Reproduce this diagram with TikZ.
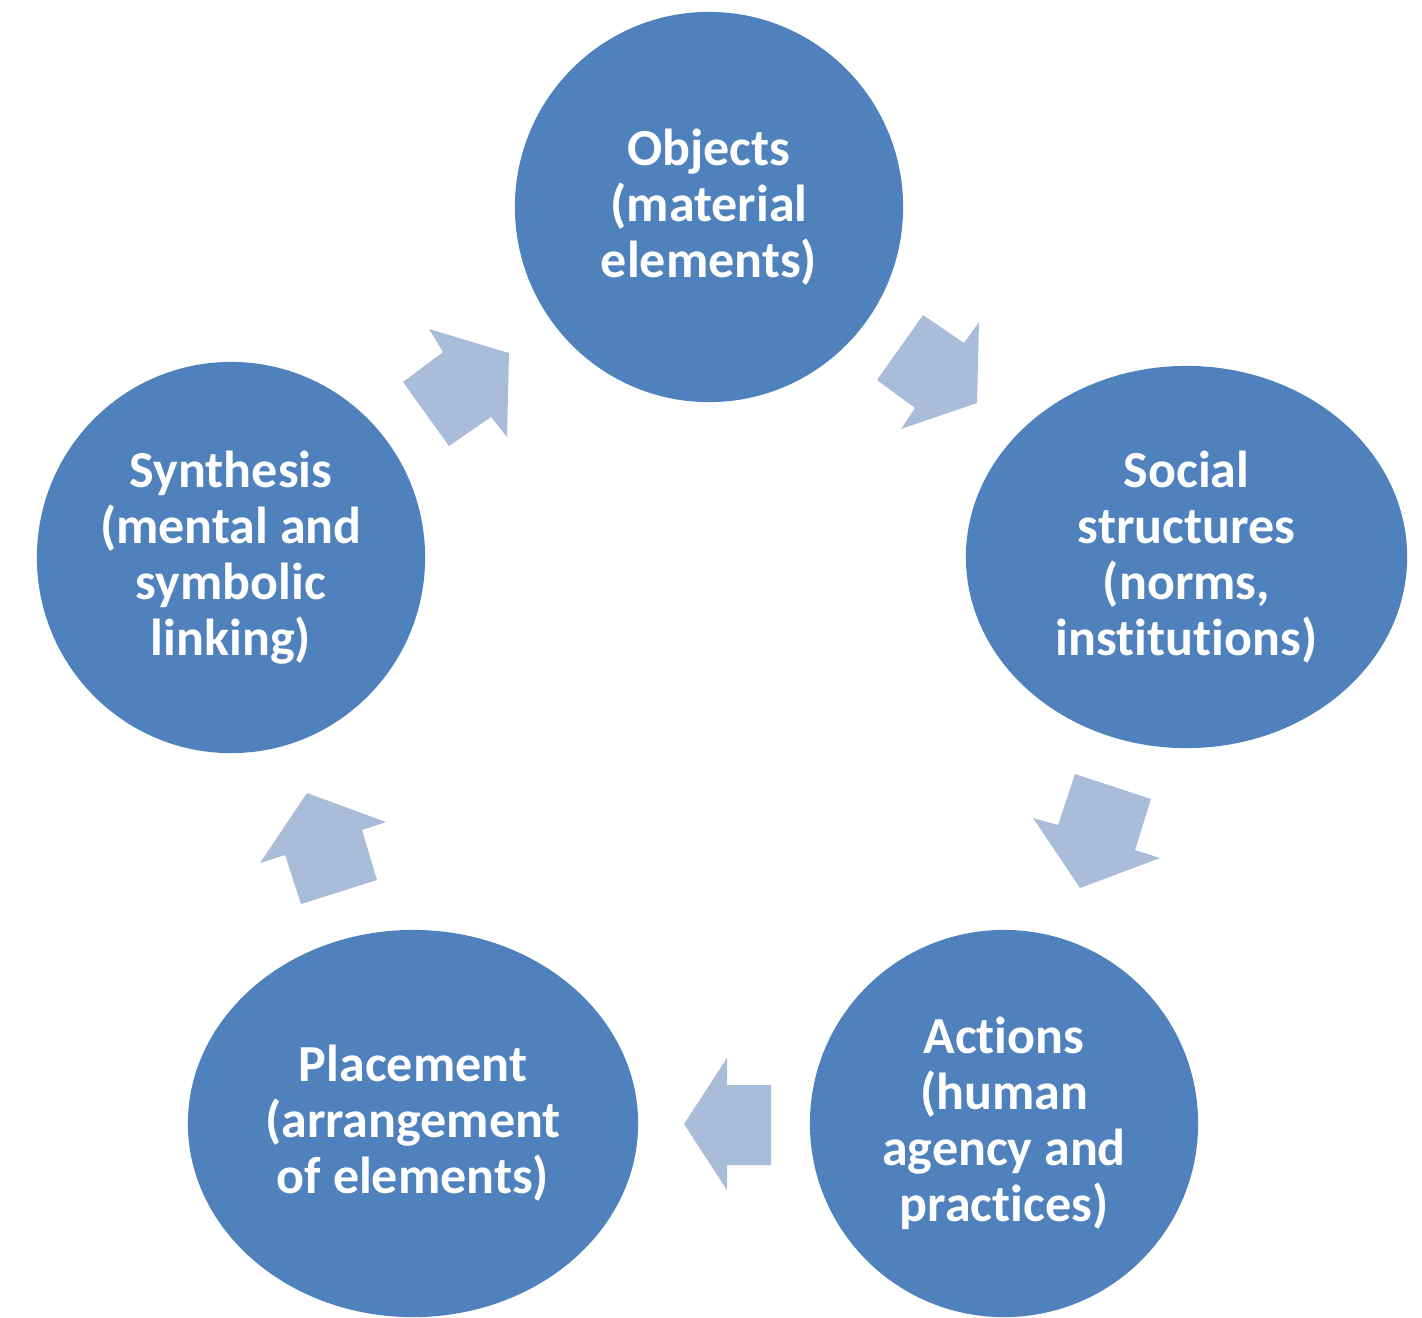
\documentclass[tikz,border=0pt]{standalone}
\usepackage{fontspec}
\setmainfont{Carlito}[Ligatures={NoCommon}]
\usetikzlibrary{shapes.geometric}
\definecolor{nodeblue}{RGB}{79,129,189}
\definecolor{arrowblue}{RGB}{169,188,217}
\begin{document}
\begin{tikzpicture}[x=0.01cm,y=-0.01cm,
  stage/.style={ellipse, fill=nodeblue, draw=none, inner sep=0pt, text=white,
    font=\fontsize{14.8pt}{15.9pt}\selectfont\bfseries, align=center},
  cyclearrow/.style={fill=arrowblue, draw=none}]
\useasboundingbox (0,0) rectangle (1422,1317);
% stages
\node[stage, minimum width=3.88cm, minimum height=3.90cm] (objects) at (709,207) {Objects\\(material\\elements)};
\node[stage, minimum width=4.41cm, minimum height=3.82cm] (social) at (1186.5,557) {Social\\structures\\(norms,\\institutions)};
\node[stage, minimum width=3.88cm, minimum height=3.87cm] (actions) at (1004,1123.5) {Actions\\(human\\agency and\\practices)};
\node[stage, minimum width=4.50cm, minimum height=3.87cm] (placement) at (413,1123.5) {Placement\\(arrangement\\of elements)};
\node[stage, minimum width=3.88cm, minimum height=3.91cm] (synthesis) at (231,557.5) {Synthesis\\(mental and\\symbolic\\linking)};
% block arrows
\fill[cyclearrow] (877,380) -- (923,315) -- (964,343) -- (979,322) -- (977,403) -- (901,429) -- (915,408) -- cycle;
\fill[cyclearrow] (1075,774) -- (1151,799) -- (1135,850) -- (1160,858) -- (1080,888) -- (1033,818) -- (1058,825) -- cycle;
\fill[cyclearrow] (771,1085) -- (727,1085) -- (727,1058) -- (684,1124) -- (727,1190) -- (727,1165) -- (771,1165) -- cycle;
\fill[cyclearrow] (301,904) -- (377,880) -- (362,830) -- (386,822) -- (307,793) -- (260,863) -- (285,855) -- cycle;
\fill[cyclearrow] (403,382) -- (449,446) -- (491,417) -- (507,437) -- (509,353) -- (429,329) -- (443,352) -- cycle;
\end{tikzpicture}
\end{document}
